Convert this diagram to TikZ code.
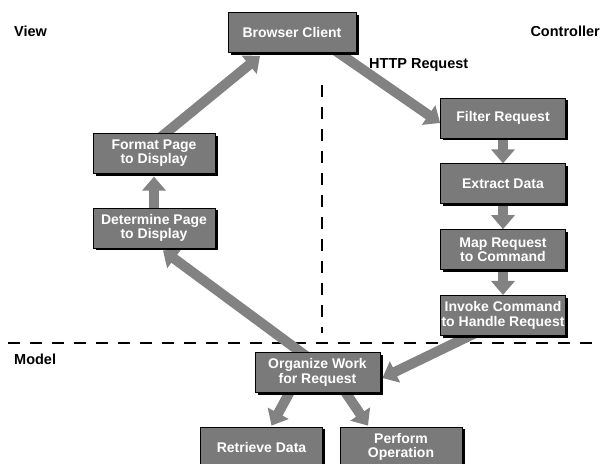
\documentclass[tikz,border=0pt]{standalone}
\usepackage{fontspec}
\setmainfont{Liberation Sans}
\usepackage{tikz}
\usetikzlibrary{arrows.meta, positioning, calc, shadows, backgrounds}
\definecolor{boxgrey}{RGB}{122,122,122}
\definecolor{flowgrey}{RGB}{130,130,130}

\begin{document}
\begin{tikzpicture}[x=1pt, y=1pt, node distance=25pt,
    box/.style={draw=black, line width=0.8pt, fill=boxgrey, text=white,
        font=\bfseries\fontsize{14}{14.5}\selectfont, align=center,
        minimum width=125pt, minimum height=40pt, inner sep=0.5pt,
        drop shadow={shadow xshift=2.5pt, shadow yshift=-2.5pt, fill=black, opacity=1}},
    zone/.style={font=\bfseries\fontsize{14.5}{16}\selectfont, inner sep=0pt},
    flow/.style={draw=flowgrey, line width=10pt, -{Triangle[width=23pt, length=14pt]}},
    cut/.style={draw=black, line width=1.1pt, dash pattern=on 12pt off 10pt}]
    \useasboundingbox (0,0) rectangle (602,463);

    \node[zone, anchor=west] (view) at (14,432) {View};
    \node[zone, anchor=east] (ctrl) at (600,432) {Controller};
    \node[zone, anchor=west] (model) at (14,104) {Model};
    \node[zone, anchor=west] (http) at (369,398) {HTTP Request};

    \node[box, minimum width=128pt] (browser) at (292,430.5) {Browser Client};

    \node[box] (filter) at (503,345) {Filter Request};
    \node[box] (extract) [below=of filter] {Extract Data};
    \node[box] (mapreq) [below=of extract] {Map Request\\to Command};
    \node[box] (invoke) [below=of mapreq] {Invoke Command\\to Handle Request};

    \node[box, minimum width=122pt] (determine) at (154,235) {Determine Page\\to Display};
    \node[box, minimum width=122pt] (format) [above=34pt of determine] {Format Page\\to Display};

    \node[box] (organize) at (317.5,90.5) {Organize Work\\for Request};
    \node[box, minimum width=122pt] (retrieve) at (261.5,16) {Retrieve Data};
    \node[box, minimum width=122pt] (perform) at (401,16) {Perform\\Operation};

    \begin{scope}[on background layer]
        \draw[cut] (8,120) -- (602,120);
        \draw[cut] (322,378) -- (322,130);

        \draw[flow] ($(browser.south)+(38,6)$) -- ($(filter.west)+(0,-5)$);
        \draw[flow] (filter) -- (extract);
        \draw[flow] (extract) -- (mapreq);
        \draw[flow] (mapreq) -- (invoke);
        \draw[flow] ($(invoke.south)+(-23,5)$) -- ($(organize.east)+(2,-5.5)$);
        \draw[flow] ($(organize.north)+(-10,-5)$) -- ($(determine.south)+(9,-2)$);
        \draw[flow] (determine) -- ($(format.south)+(0,-3)$);
        \draw[flow] ($(format.north)+(6,-5)$) -- ($(browser.south)+(-32,-3)$);
        \draw[flow] ($(organize.south)+(-25.5,5)$) -- ($(retrieve.north)+(10,1)$);
        \draw[flow] ($(organize.south)+(25,5)$) -- ($(perform.north)+(-33,1)$);
    \end{scope}
\end{tikzpicture}
\end{document}
